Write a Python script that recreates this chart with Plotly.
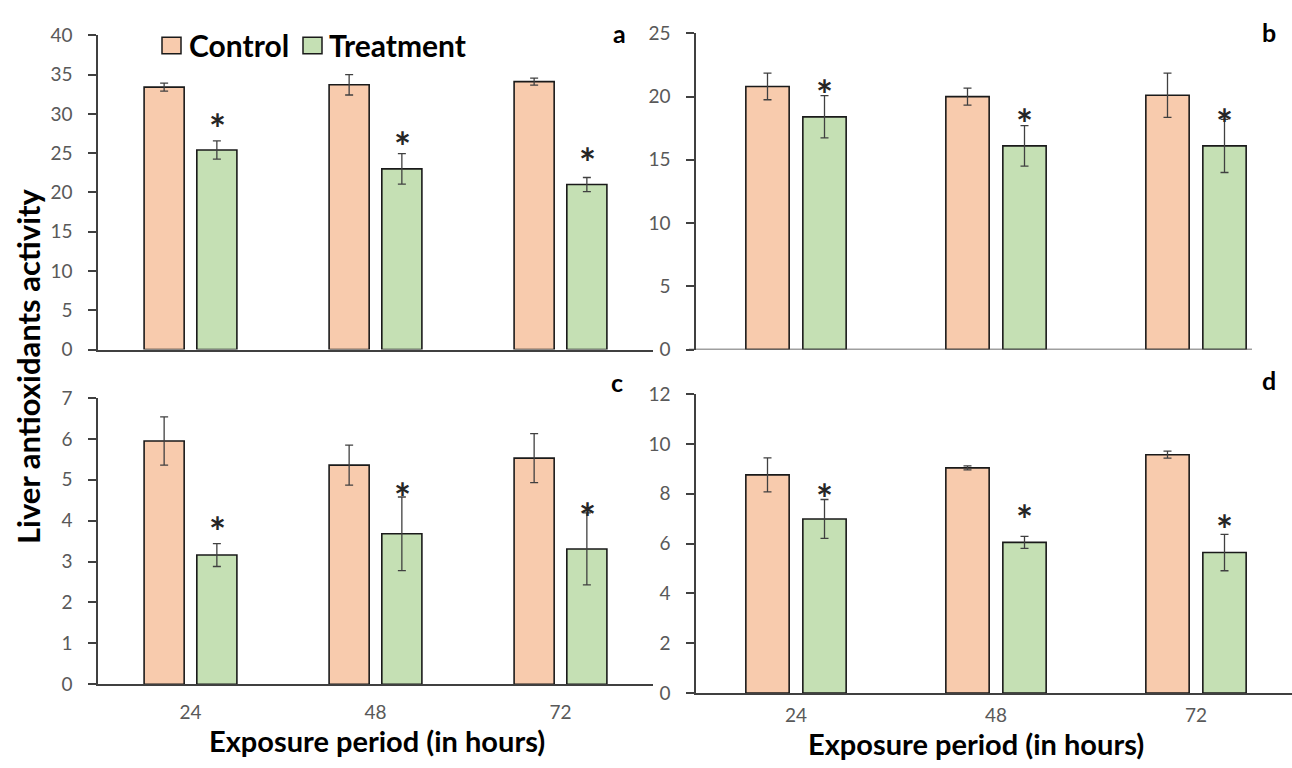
import plotly.graph_objects as go

hours = ["24", "48", "72"]

a_control = [33.4, 33.7, 34.1]
a_control_err = [0.5, 1.3, 0.45]
a_treat = [25.4, 23.0, 21.0]
a_treat_err = [1.15, 1.95, 0.9]
a_star = [29.4, 27.0, 25.0]

b_control = [20.8, 20.0, 20.1]
b_control_err = [1.05, 0.67, 1.75]
b_treat = [18.4, 16.1, 16.1]
b_treat_err = [1.67, 1.6, 2.1]
b_star = [20.9, 18.65, 18.65]

c_control = [5.95, 5.36, 5.53]
c_control_err = [0.59, 0.49, 0.6]
c_treat = [3.16, 3.68, 3.31]
c_treat_err = [0.28, 0.9, 0.88]
c_star = [3.96, 4.79, 4.30]

d_control = [8.76, 9.04, 9.57]
d_control_err = [0.68, 0.08, 0.14]
d_treat = [6.99, 6.05, 5.64]
d_treat_err = [0.78, 0.24, 0.73]
d_star = [8.2, 7.36, 6.94]

panel_labels = ["a", "b", "c", "d"]

ORANGE = "#F8CBAD"
GREEN = "#C5E0B4"
AXIS = "#404040"
TICKC = "#595959"
FONT = "Lato"

W, H = 1292, 768

def px(x):
    return x / W

def py(y):
    return (H - y) / H

panels = [
    dict(c=a_control, ce=a_control_err, t=a_treat, te=a_treat_err, s=a_star,
         xa="x", ya="y", xd=[px(98), px(653)], yd=[py(348), py(24)], yr=[0, 40], dt=5,
         xr=[-0.5, 2.5], shift=26.5, showx=False, stand=11),
    dict(c=b_control, ce=b_control_err, t=b_treat, te=b_treat_err, s=b_star,
         xa="x2", ya="y2", xd=[px(696), 1.0], yd=[py(348), py(22)], yr=[0, 25], dt=5,
         xr=[-0.5, 2.48], shift=28.5, showx=False, stand=11),
    dict(c=c_control, ce=c_control_err, t=c_treat, te=c_treat_err, s=c_star,
         xa="x3", ya="y3", xd=[px(98), px(653)], yd=[py(693), py(398)], yr=[0, 7], dt=1,
         xr=[-0.5, 2.5], shift=26.5, showx=True, stand=10),
    dict(c=d_control, ce=d_control_err, t=d_treat, te=d_treat_err, s=d_star,
         xa="x4", ya="y4", xd=[px(696), 1.0], yd=[py(702), py(394)], yr=[0, 12], dt=2,
         xr=[-0.5, 2.48], shift=28.5, showx=True, stand=4),
]

fig = go.Figure()
annotations = []
shapes = []
layout_axes = {}

for i, p in enumerate(panels):
    err_style = dict(type="data", visible=True, color=AXIS, thickness=1.3, width=4)
    fig.add_trace(go.Bar(
        x=hours, y=p["c"], name="Control", offsetgroup="c",
        marker=dict(color=ORANGE, line=dict(color="#1a1a1a", width=1.6)),
        error_y=dict(array=p["ce"], **err_style),
        xaxis=p["xa"], yaxis=p["ya"], showlegend=False,
    ))
    fig.add_trace(go.Bar(
        x=hours, y=p["t"], name="Treatment", offsetgroup="t",
        marker=dict(color=GREEN, line=dict(color="#1a1a1a", width=1.6)),
        error_y=dict(array=p["te"], **err_style),
        xaxis=p["xa"], yaxis=p["ya"], showlegend=False,
    ))
    for k, sv in enumerate(p["s"]):
        annotations.append(dict(
            x=k, y=sv, xref=p["xa"], yref=p["ya"], text="*", showarrow=False,
            xshift=p["shift"], yshift=-10, xanchor="center", yanchor="middle",
            font=dict(family=FONT, size=40, color="#262626", weight="bold"),
        ))
    xkey = "xaxis" if i == 0 else f"xaxis{i+1}"
    ykey = "yaxis" if i == 0 else f"yaxis{i+1}"
    layout_axes[xkey] = dict(
        domain=p["xd"], anchor=p["ya"], type="category", range=p["xr"],
        showline=(i != 1), linecolor=AXIS, linewidth=1.5, ticks="",
        showticklabels=p["showx"], showgrid=False, zeroline=False,
        tickfont=dict(family=FONT, size=19, color=TICKC), ticklabelstandoff=p["stand"],
        fixedrange=True,
    )
    layout_axes[ykey] = dict(
        domain=p["yd"], anchor=p["xa"], range=p["yr"], dtick=p["dt"], tick0=0,
        showline=True, linecolor=AXIS, linewidth=1.5, ticks="outside", ticklen=8,
        tickcolor=AXIS, tickwidth=1.5, showgrid=False, zeroline=False,
        tickfont=dict(family=FONT, size=19, color=TICKC), ticklabelstandoff=12,
    )

# panel b x-axis line (shorter than plotting area)
shapes.append(dict(type="line", xref="paper", yref="y2", x0=px(689), x1=px(1252), y0=0, y1=0,
                   line=dict(color=AXIS, width=1.5)))

# panel letters
for lab, (lx, ly) in zip(panel_labels, [(619, 22), (1269, 21), (617, 381), (1269, 379)]):
    annotations.append(dict(x=px(lx), y=py(ly), xref="paper", yref="paper", text=lab,
                            showarrow=False, xanchor="center", yanchor="middle",
                            font=dict(family=FONT, size=25, color="#000000", weight="bold")))

# axis titles
title_font = dict(family=FONT, size=29, color="#000000", weight="bold")
annotations.append(dict(x=px(377), y=py(751), xref="paper", yref="paper",
                        text="Exposure period (in hours)", showarrow=False,
                        xanchor="center", yanchor="middle", font=title_font))
annotations.append(dict(x=px(976), y=py(754), xref="paper", yref="paper",
                        text="Exposure period (in hours)", showarrow=False,
                        xanchor="center", yanchor="middle", font=title_font))
annotations.append(dict(x=px(28), y=py(365), xref="paper", yref="paper",
                        text="Liver antioxidants activity", showarrow=False, textangle=-90,
                        xanchor="center", yanchor="middle",
                        font=dict(family=FONT, size=31, color="#000000", weight="bold")))

# legend
shapes.append(dict(type="rect", xref="paper", yref="paper", x0=px(162), x1=px(181), y0=py(43), y1=py(26),
                   fillcolor=ORANGE, line=dict(color="#1a1a1a", width=1.5)))
shapes.append(dict(type="rect", xref="paper", yref="paper", x0=px(303), x1=px(322), y0=py(43), y1=py(26),
                   fillcolor=GREEN, line=dict(color="#1a1a1a", width=1.5)))
legend_font = dict(family=FONT, size=30, color="#000000", weight="bold")
annotations.append(dict(x=px(187), y=py(34), xref="paper", yref="paper", text="Control",
                        showarrow=False, xanchor="left", yanchor="middle", font=legend_font))
annotations.append(dict(x=px(327), y=py(34), xref="paper", yref="paper", text="Treatment",
                        showarrow=False, xanchor="left", yanchor="middle", font=legend_font))

fig.update_layout(
    width=W, height=H, autosize=False,
    margin=dict(l=0, r=0, t=0, b=0, pad=0),
    paper_bgcolor="white", plot_bgcolor="white",
    barmode="group", bargap=0.43, bargroupgap=0.24,
    annotations=annotations, shapes=shapes,
    font=dict(family=FONT),
    **layout_axes,
)

fig.write_html("out.html", config={"displayModeBar": False})
